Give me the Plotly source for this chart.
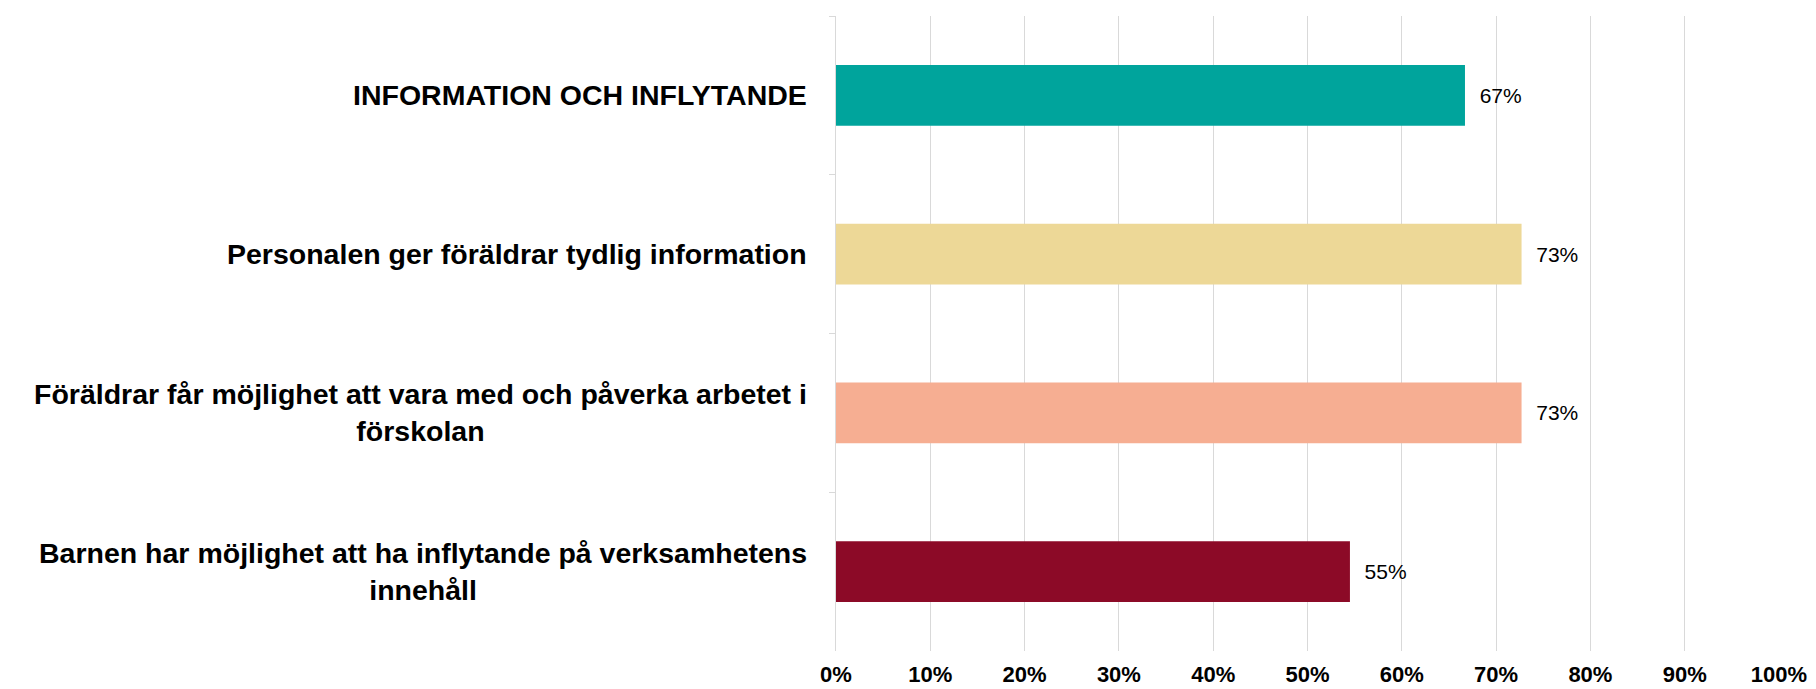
import plotly.graph_objects as go

categories = [
    "INFORMATION OCH INFLYTANDE",
    "Personalen ger föräldrar tydlig information",
    "Föräldrar får möjlighet att vara med och påverka arbetet i<br>förskolan",
    "Barnen har möjlighet att ha inflytande på verksamhetens<br>innehåll",
]
values = [0.667, 0.727, 0.727, 0.545]
value_labels = ["67%", "73%", "73%", "55%"]
bar_colors = ["#00A49C", "#EDD897", "#F6AE92", "#8C0A27"]
x_ticks = [0, 0.1, 0.2, 0.3, 0.4, 0.5, 0.6, 0.7, 0.8, 0.9, 1.0]
x_tick_labels = ["0%", "10%", "20%", "30%", "40%", "50%", "60%", "70%", "80%", "90%", "100%"]

FONT = "Liberation Sans"

fig = go.Figure()
fig.add_trace(go.Bar(
    y=categories,
    x=values,
    orientation="h",
    marker=dict(color=bar_colors, line=dict(width=0)),
    text=["\u00a0\u00a0" + t for t in value_labels],
    textposition="outside",
    textfont=dict(family=FONT, size=21, color="#000000"),
    cliponaxis=False,
    width=0.384,
    hoverinfo="skip",
))

for cat in categories:
    fig.add_annotation(
        x=0, xref="paper", y=cat, yref="y",
        text=cat, showarrow=False,
        xanchor="right", yanchor="middle", align="center",
        xshift=-27,
        font=dict(family=FONT, size=28.5, color="#000000", weight="bold"),
    )

# The page body has an 8 px margin, so the figure is 8 px smaller each way
fig.update_layout(
    width=1808, height=681,
    margin=dict(l=828, r=37, t=8, b=38),
    paper_bgcolor="white", plot_bgcolor="white",
    showlegend=False,
)
fig.update_xaxes(
    range=[0, 1], tickvals=x_ticks, ticktext=x_tick_labels,
    showgrid=True, gridcolor="#D9D9D9", gridwidth=1,
    zeroline=False, showline=False, ticks="",
    tickfont=dict(family=FONT, size=22, color="#000000", weight="bold"),
    ticklabelstandoff=8, automargin=False,
)
fig.update_yaxes(
    autorange="reversed", showticklabels=False,
    showline=True, linecolor="#D9D9D9", linewidth=1,
    ticks="outside", tickson="boundaries", ticklen=6, tickcolor="#D9D9D9",
    showgrid=False, zeroline=False, automargin=False,
)

fig.write_html("out.html")
